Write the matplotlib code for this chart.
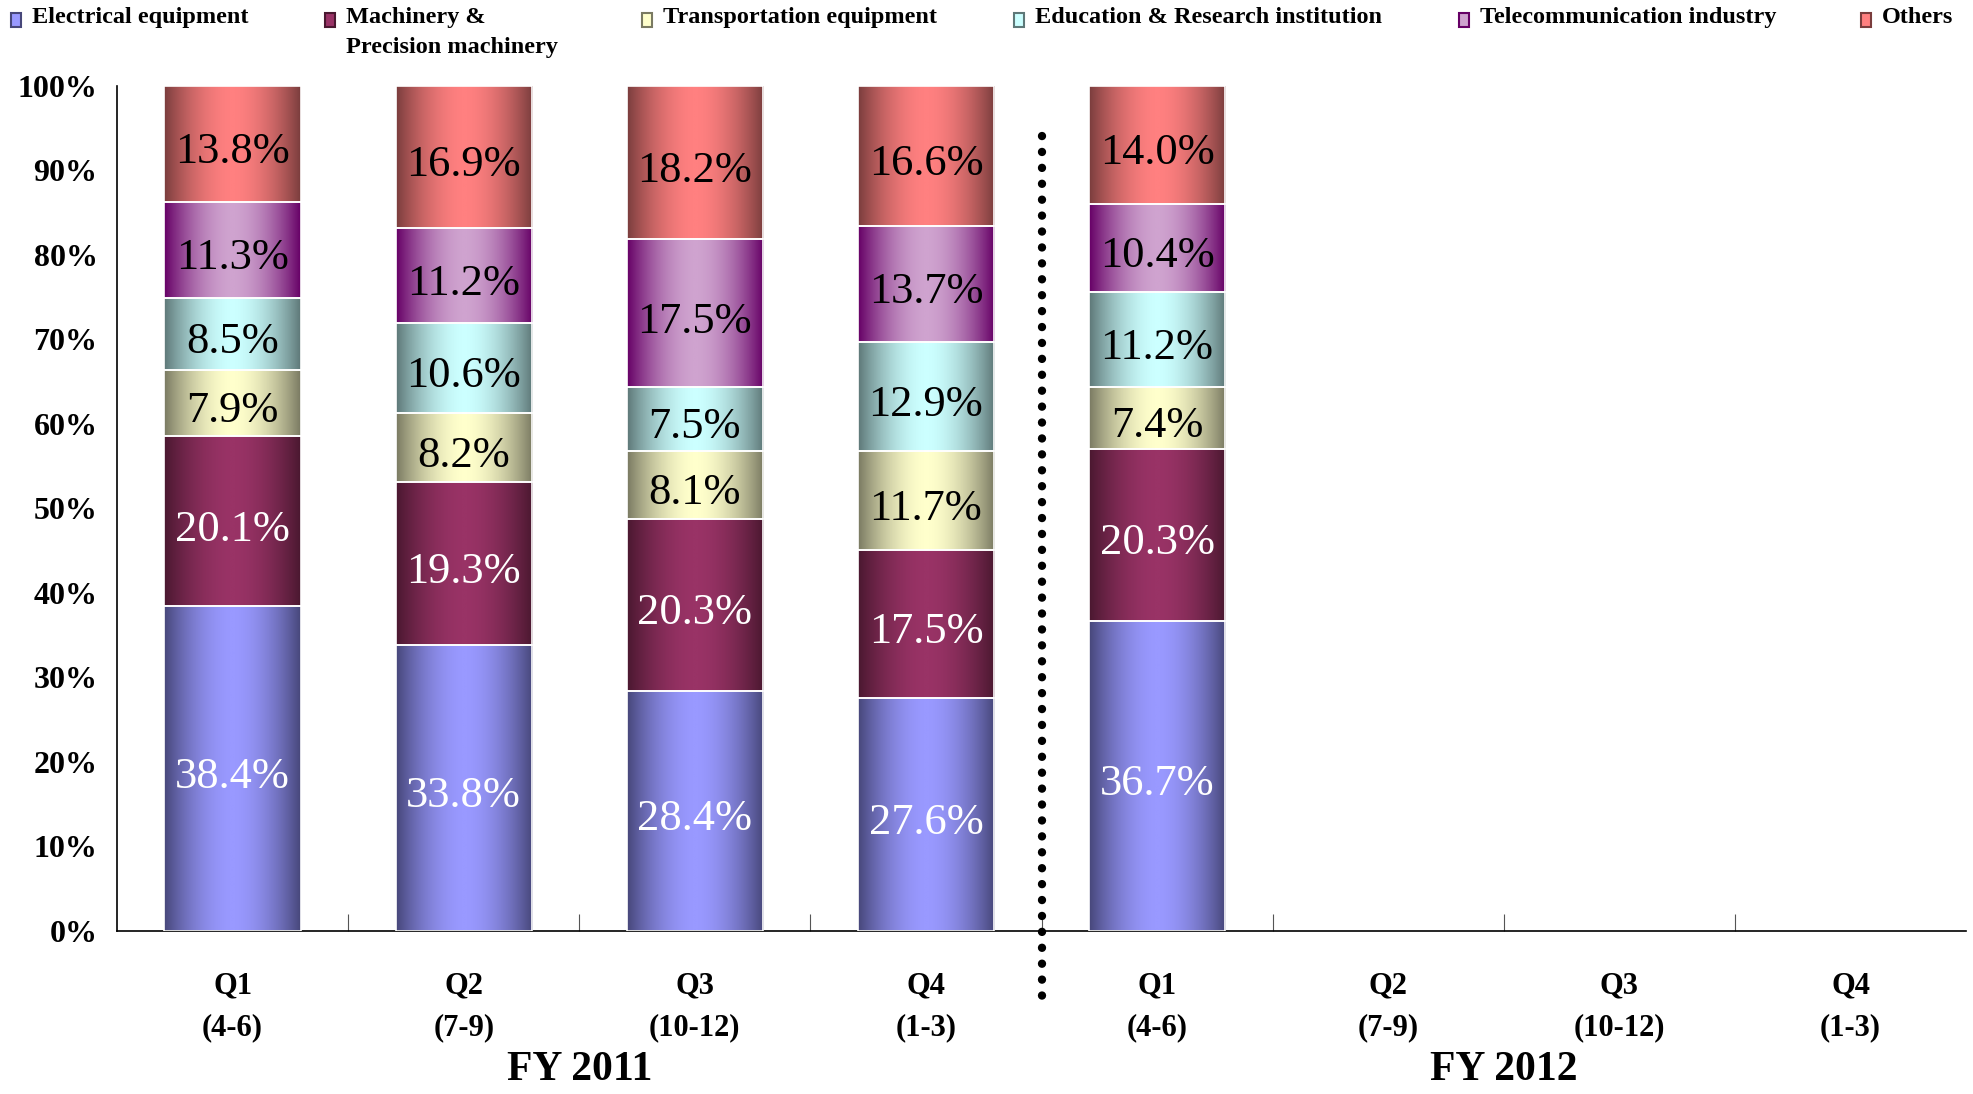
import numpy as np
import matplotlib
matplotlib.use('Agg')
import matplotlib.pyplot as plt
from matplotlib.colors import LinearSegmentedColormap, to_rgb
from matplotlib.patches import Rectangle

plt.rcParams['font.family'] = ['Liberation Serif', 'DejaVu Serif']

# quarters on the x axis (FY2012 Q2-Q4 have no data yet)
quarters = ['Q1\n(4-6)', 'Q2\n(7-9)', 'Q3\n(10-12)', 'Q4\n(1-3)',
            'Q1\n(4-6)', 'Q2\n(7-9)', 'Q3\n(10-12)', 'Q4\n(1-3)']
years = ['FY 2011', 'FY 2012']
n_filled = 5

series = ['Electrical equipment', 'Machinery &\nPrecision machinery',
          'Transportation equipment', 'Education & Research institution',
          'Telecommunication industry', 'Others']
electrical = [38.4, 33.8, 28.4, 27.6, 36.7]
machinery = [20.1, 19.3, 20.3, 17.5, 20.3]
transport = [7.9, 8.2, 8.1, 11.7, 7.4]
education = [8.5, 10.6, 7.5, 12.9, 11.2]
telecom = [11.3, 11.2, 17.5, 13.7, 10.4]
others = [13.8, 16.9, 18.2, 16.6, 14.0]
values = [electrical, machinery, transport, education, telecom, others]

# light centre / dark edge of each cylinder-like bar
centre_cols = ['#9999ff', '#993366', '#ffffcc', '#ccffff', '#cfa3cf', '#ff8080']
edge_cols = ['#47477a', '#4a1830', '#7a7a62', '#5e7878', '#660066', '#7a3d3d']
label_cols = ['white', 'white', 'black', 'black', 'black', 'black']

fig = plt.figure(figsize=(19.73, 10.94), dpi=100)
ax = fig.add_axes([0.0593, 0.149, 0.9372, 0.7728])

x = np.arange(n_filled)
bottom = np.zeros(n_filled)
u = np.linspace(0, 1, 200)
shade = np.abs(2 * u - 1) ** 1.8
for vals, c0, c1, lc in zip(values, centre_cols, edge_cols, label_cols):
    vals = np.array(vals)
    bars = ax.bar(x, vals, 0.59, bottom=bottom, facecolor='none',
                  edgecolor='white', linewidth=1.2, zorder=3)
    cmap = LinearSegmentedColormap.from_list('g', [to_rgb(c0), to_rgb(c1)])
    for p, v in zip(bars.patches, vals):
        x0, y0 = p.get_x(), p.get_y()
        ax.imshow(shade[np.newaxis, :], cmap=cmap, vmin=0, vmax=1, aspect='auto',
                  extent=(x0, x0 + p.get_width(), y0, y0 + p.get_height()),
                  interpolation='bilinear', zorder=2)
        ax.annotate(f'{v:.1f}%', (x0 + p.get_width() / 2, y0 + p.get_height() / 2),
                    xytext=(0, -6), textcoords='offset points',
                    ha='center', va='center', fontsize=32, color=lc, zorder=4)
    bottom += vals

ax.set_xlim(-0.5, 7.5)
ax.set_ylim(0, 100)
ax.set_yticks(np.arange(0, 101, 10))
ax.set_yticklabels([f'{v}%' for v in range(0, 101, 10)], fontsize=23, fontweight='bold')
ax.tick_params(axis='y', length=0, pad=14)
ax.set_xticks(np.arange(len(quarters)))
ax.set_xticklabels(quarters, fontsize=22, fontweight='bold', linespacing=1.6)
ax.set_xticks(np.arange(0.5, 7, 1), minor=True)
ax.tick_params(axis='x', which='major', length=0, pad=29)
ax.tick_params(axis='x', which='minor', length=12, direction='in', width=0.8,
               color='#555555')
for s in ['top', 'right']:
    ax.spines[s].set_visible(False)
for s in ['left', 'bottom']:
    ax.spines[s].set_linewidth(1.2)

# dotted divider between fiscal years
ax.plot([3.5, 3.5], [94.0, -8.7], color='black', linewidth=6,
        linestyle=(0, (0.01, 1.9)), dash_capstyle='round', clip_on=False, zorder=5)

for i, yr in enumerate(years):
    ax.text(1.5 + 4 * i, -0.164, yr, transform=ax.get_xaxis_transform(),
            ha='center', va='center', fontsize=30, fontweight='bold')

# legend along the top edge
W, H = 1973, 1094
mk_x = [11, 325, 642, 1014, 1459, 1861]
for name, mx, c0, c1 in zip(series, mk_x, centre_cols, edge_cols):
    fig.add_artist(Rectangle((mx / W, 1 - 27 / H), 10 / W, 14 / H,
                             transform=fig.transFigure, facecolor=c0,
                             edgecolor=c1, linewidth=1.5))
    fig.text((mx + 21) / W, 1 - 7 / H, name, ha='left', va='top',
             fontsize=17.5, fontweight='bold', linespacing=1.55)

fig.savefig('out.png', dpi=100)
